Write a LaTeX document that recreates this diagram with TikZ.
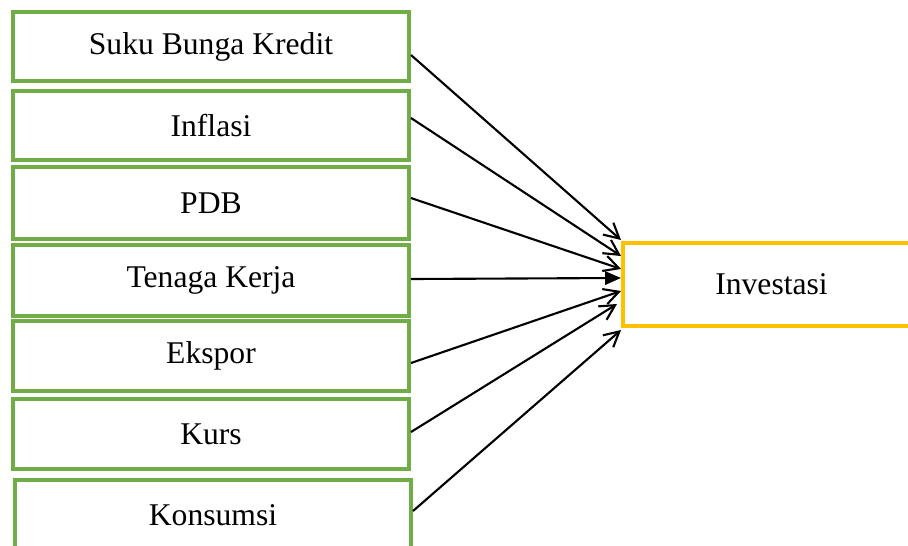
\documentclass[tikz,border=0pt]{standalone}
\usepackage{fontspec}
\setmainfont{Liberation Serif}
\usetikzlibrary{arrows.meta, calc}
\definecolor{mygreen}{RGB}{112,173,71}
\definecolor{myorange}{RGB}{255,192,0}

\begin{document}
\begin{tikzpicture}[x=0.02cm, y=-0.02cm,
    varbox/.style={draw=mygreen, line width=2.3pt, minimum width=7.92cm, inner sep=0pt,
        font=\fontsize{18}{22}\selectfont},
    invbox/.style={draw=myorange, line width=2.3pt, minimum width=5.94cm, minimum height=1.66cm,
        inner sep=0pt, font=\fontsize{18}{22}\selectfont},
    link/.style={line width=1.2pt, -{Straight Barb[length=8.5pt, width=9pt, line width=1.2pt]}},
    flink/.style={line width=1.2pt, -{Triangle[length=9pt, width=7.5pt]}}]
    % Page
    \clip (0,0) rectangle (908,545);
    \fill[white] (0,0) rectangle (908,545);

    % Variables
    \node[varbox, minimum height=1.38cm] (kredit) at (211, 46.5) {Suku Bunga Kredit};
    \node[varbox, minimum height=1.38cm] (inflasi) at (211, 125.5) {Inflasi};
    \node[varbox, minimum height=1.44cm] (pdb) at (211, 203) {PDB};
    \node[varbox, minimum height=1.42cm] (kerja) at (211, 280.5) {Tenaga Kerja};
    \node[varbox, minimum height=1.40cm] (ekspor) at (211, 356) {Ekspor};
    \node[varbox, minimum height=1.40cm] (kurs) at (211, 434) {Kurs};
    \node[varbox, minimum height=1.40cm] (konsumsi) at (213, 515) {Konsumsi};

    % Target
    \node[invbox] (inv) at (771.5, 284.5) {Investasi};

    % Arrows
    \draw[link] ($(kredit.east)+(0,8.5)$) -- ($(inv.north west)+(0,-1)$);
    \draw[link] ($(inflasi.east)+(0,-7.5)$) -- ($(inv.north west)+(0,15)$);
    \draw[link] ($(pdb.east)+(0,-5)$) -- ($(inv.north west)+(0,28)$);
    \draw[flink] ($(kerja.east)+(0,-1.5)$) -- ($(inv.north west)+(0,37)$);
    \draw[link] ($(ekspor.east)+(0,7)$) -- ($(inv.north west)+(0,50)$);
    \draw[link] ($(kurs.east)+(0,-2)$) -- ($(inv.north west)+(-4,63)$);
    \draw[link] ($(konsumsi.east)+(0,-4)$) -- ($(inv.north west)+(0,89)$);
\end{tikzpicture}
\end{document}
